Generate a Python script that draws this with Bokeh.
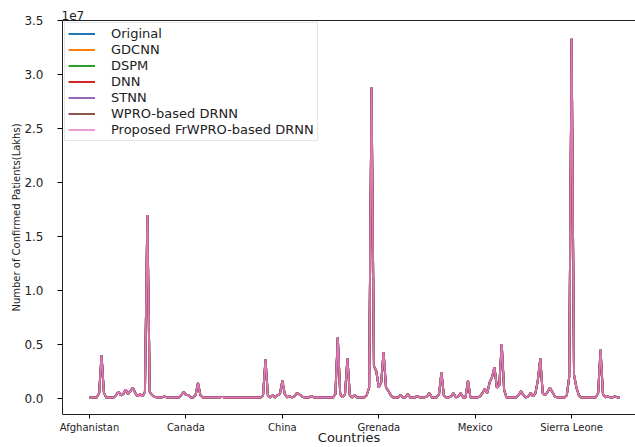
from bokeh.plotting import figure
from bokeh.models import Range1d, FixedTicker, Legend, LegendItem, LinearAxis
from bokeh.embed import file_html
from bokeh.resources import INLINE

# ---- data (confirmed patients, in millions, one value per country row) ----
original_m = [
    0.1, 0.1, 0.1, 0.1, 0.5, 4.0, 0.5, 0.1, 0.1, 0.1,
    0.1, 0.3, 0.65, 0.3, 0.4, 0.85, 0.4, 0.7, 1.0, 0.5,
    0.2, 0.4, 0.2, 0.6, 17.0, 0.6, 0.3, 0.15, 0.1, 0.1,
    0.1, 0.2, 0.1, 0.1, 0.1, 0.1, 0.1, 0.1, 0.3, 0.6,
    0.35, 0.3, 0.1, 0.1, 0.3, 1.45, 0.3, 0.1, 0.1, 0.1,
    0.1, 0.1, 0.1, 0.1, 0.1, 0.15, 0.1, 0.1, 0.1, 0.1,
    0.1, 0.1, 0.1, 0.1, 0.1, 0.1, 0.1, 0.1, 0.1, 0.1,
    0.1, 0.1, 0.3, 3.6, 0.3, 0.1, 0.3, 0.1, 0.3, 0.4,
    1.65, 0.4, 0.1, 0.2, 0.1, 0.2, 0.5, 0.4, 0.2, 0.1,
    0.1, 0.1, 0.25, 0.1, 0.1, 0.1, 0.1, 0.1, 0.1, 0.1,
    0.1, 0.1, 0.4, 5.65, 0.4, 0.1, 0.4, 3.7, 0.3, 0.1,
    0.3, 0.1, 0.1, 0.1, 0.1, 0.3, 1.0, 28.8, 3.0, 2.5,
    1.0, 1.5, 4.3, 1.0, 0.7, 0.3, 0.1, 0.1, 0.1, 0.3,
    0.1, 0.1, 0.4, 0.1, 0.1, 0.1, 0.25, 0.1, 0.1, 0.1,
    0.2, 0.5, 0.1, 0.1, 0.1, 0.4, 2.4, 0.3, 0.1, 0.1,
    0.2, 0.5, 0.1, 0.2, 0.5, 0.1, 0.1, 1.65, 0.1, 0.1,
    0.1, 0.1, 0.2, 0.5, 0.9, 0.5, 1.5, 2.0, 2.9, 1.0,
    1.2, 5.05, 0.8, 0.1, 0.1, 0.1, 0.1, 0.1, 0.3, 0.7,
    0.3, 0.1, 0.2, 0.5, 0.2, 0.5, 1.7, 3.7, 0.5, 0.3,
    0.6, 1.0, 0.6, 0.2, 0.1, 0.1, 0.1, 0.1, 0.3, 2.0,
    33.3, 2.2, 1.0, 0.3, 0.1, 0.1, 0.1, 0.1, 0.1, 0.1,
    0.1, 0.5, 4.5, 0.4, 0.1, 0.2, 0.1, 0.1, 0.2, 0.1,
    0.1,
]
# all model predictions overlap the original series in the picture
gdcnn_m = list(original_m)
dspm_m = list(original_m)
dnn_m = list(original_m)
stnn_m = list(original_m)
wpro_drnn_m = list(original_m)
proposed_m = list(original_m)

series_names = ["Original", "GDCNN", "DSPM", "DNN", "STNN",
                "WPRO-based DRNN", "Proposed FrWPRO-based DRNN"]
series_values = [original_m, gdcnn_m, dspm_m, dnn_m, stnn_m, wpro_drnn_m, proposed_m]
series_colors = ["#1f77b4", "#ff7f0e", "#2ca02c", "#d62728", "#9467bd",
                 "#8c564b", "#e377c2"]
series_widths = [2.0, 2.0, 2.0, 2.0, 2.0, 2.0, 1.5]

tick_positions = [0, 40, 80, 120, 160, 200]
tick_labels = ["Afghanistan", "Canada", "China", "Grenada", "Mexico", "Sierra Leone"]
y_ticks = [0, 5e6, 1e7, 1.5e7, 2e7, 2.5e7, 3e7, 3.5e7]

FONT = "DejaVu Sans"
INK = "#222222"

p = figure(width=635, height=447, output_backend="svg", toolbar_location=None,
           x_range=Range1d(-11.2, 226.5), y_range=Range1d(-1.48e6, 3.5e7),
           min_border_left=62, min_border_right=0, min_border_top=20,
           min_border_bottom=0)
p.title.text = "1e7"
p.title.text_font = FONT
p.title.text_font_size = "12px"
p.title.text_font_style = "normal"
p.title.text_color = INK
p.title.align = "left"
p.title.offset = -1
p.title.standoff = 1

p.xgrid.visible = False
p.ygrid.visible = False
p.outline_line_color = None

xa = p.below[0]
ya = p.left[0]

# top spine (no right spine: the reference is cropped on the right)
top_axis = LinearAxis(ticker=FixedTicker(ticks=[]), major_tick_out=0,
                      major_tick_in=0, minor_tick_line_color=None,
                      major_label_text_font_size="0px", major_label_standoff=0,
                      axis_line_color=INK)
p.add_layout(top_axis, "above")

items = []
for name, vals, col, lw in zip(series_names, series_values, series_colors, series_widths):
    xs = list(range(len(vals)))
    ys = [v * 1e6 for v in vals]
    r = p.line(xs, ys, line_color=col, line_width=lw)
    items.append(LegendItem(label=name, renderers=[r]))

legend = Legend(items=items, location="top_left")
legend.label_text_font = FONT
legend.label_text_font_size = "13px"
legend.label_text_color = INK
legend.glyph_width = 27
legend.glyph_height = 15
legend.label_height = 15
legend.spacing = 1
legend.padding = 3
legend.margin = 2
legend.label_standoff = 16
legend.border_line_color = "#cccccc"
legend.border_line_width = 1
legend.background_fill_alpha = 0.85
p.add_layout(legend)

xa.ticker = FixedTicker(ticks=tick_positions)
xa.major_label_overrides = {pos: lab for pos, lab in zip(tick_positions, tick_labels)}
xa.minor_tick_line_color = None
xa.major_tick_out = 4
xa.major_tick_in = 0
xa.major_label_standoff = 3
xa.major_label_text_font = FONT
xa.major_label_text_font_size = "10px"
xa.major_label_text_color = INK
xa.axis_label = "Countries"
xa.axis_label_text_font = FONT
xa.axis_label_text_font_size = "13px"
xa.axis_label_text_font_style = "normal"
xa.axis_label_text_color = INK
xa.axis_label_standoff = -6
xa.axis_line_color = INK

ya.ticker = FixedTicker(ticks=y_ticks)
ya.major_label_overrides = {t: "%.1f" % (t / 1e7) for t in y_ticks}
ya.minor_tick_line_color = None
ya.major_tick_out = 5
ya.major_tick_in = 0
ya.major_label_standoff = 14
ya.major_label_text_font = FONT
ya.major_label_text_font_size = "12px"
ya.major_label_text_color = INK
ya.axis_label = "Number of Confirmed Patients(Lakhs)"
ya.axis_label_text_font = FONT
ya.axis_label_text_font_size = "10px"
ya.axis_label_text_font_style = "normal"
ya.axis_label_text_color = INK
ya.axis_label_standoff = -1
ya.axis_line_color = INK

open("out.html", "w").write(file_html(p, INLINE))
